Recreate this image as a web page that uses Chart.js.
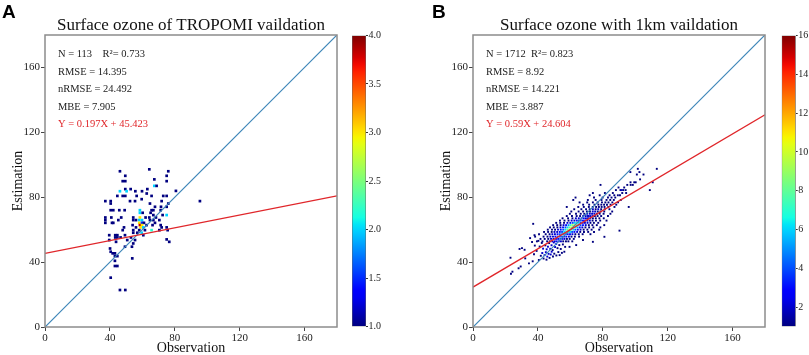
<!DOCTYPE html>
<html>
<head>
<meta charset="utf-8">
<script src="https://cdn.jsdelivr.net/npm/chart.js@4.4.1/dist/chart.umd.min.js"></script>
<style>
  body { margin: 0; background: #fff; }
  #wrap { position: relative; width: 809px; height: 355px; overflow: hidden; }
  canvas { position: absolute; top: 0; }
</style>
</head>
<body>
<div id="wrap">
  <canvas id="panelA" width="345" height="355" style="left:0px"></canvas>
  <canvas id="barA" width="60" height="355" style="left:340px"></canvas>
  <canvas id="panelB" width="345" height="355" style="left:428px"></canvas>
  <canvas id="barB" width="39" height="355" style="left:770px"></canvas>
</div>
<script>
// axis ticks (both panels share them)
const axisTicks = [0, 40, 80, 120, 160];
const axisMax = 180;

// colorbar ticks
const cbTicksA = [1.0, 1.5, 2.0, 2.5, 3.0, 3.5, 4.0];
const cbTicksB = [2, 4, 6, 8, 10, 12, 14, 16];
const cbRangeA = [1, 4];
const cbRangeB = [1, 16];

// fitted lines
const fitA = { slope: 0.197, intercept: 45.423 };
const fitB = { slope: 0.59, intercept: 24.604 };

// stats text
const statsA = ['N = 113    R\u00b2= 0.733', 'RMSE = 14.395', 'nRMSE = 24.492', 'MBE = 7.905', 'Y = 0.197X + 45.423'];
const statsB = ['N = 1712  R\u00b2= 0.823', 'RMSE = 8.92', 'nRMSE = 14.221', 'MBE = 3.887', 'Y = 0.59X + 24.604'];

// [observation, estimation, count] -- TROPOMI
const pointsA = [
  [64.3,97.2,1],[46.2,96,1],[76,96,1],[49.5,93.2,1],[75,93.2,1],[47.9,89.9,1],[49.5,89.9,1],[67.4,91,1],[75,89.9,1],
  [67.4,87,2],[68.8,87,1],[49.5,85,1],[52.8,85,1],[46.2,83.7,2],[50.3,83.7,2],[55.7,83.7,1],[59.8,83.7,1],[63.1,85,1],
  [80.7,83.9,1],[62.7,82.3,1],[44.6,80.8,1],[47.9,80.8,1],[49.5,80.8,1],[56.5,80.8,1],[65.7,80.8,1],[72.9,80.8,1],
  [75,80.8,1],[59.6,78.8,1],[37.2,77.6,1],[40.5,77.6,1],[52.4,77.6,1],[55.5,77.6,1],[71.9,77.6,1],[95.5,77.6,1],
  [40.5,76.1,1],[64.7,76.1,1],[76,76.1,1],[67.8,74.1,1],[71.5,74.1,1],[75,74.1,1],[40.5,72,1],[42.1,72,1],[45.8,72,1],
  [49.1,72,1],[58.5,72,2],[65.7,72,1],[66.8,72,1],[71.3,72,1],[58.5,70.4,2],[60.2,70.4,1],[65.1,70.4,1],[66.8,69,1],
  [72.5,69,1],[75,69,2],[37.2,67.5,1],[40.9,67.5,1],[47,67.5,1],[54.4,67.5,1],[58.5,67.5,3],[62,67.5,1],[64.3,67.5,1],
  [68.4,67.5,1],[37.2,65.9,1],[45.2,65.9,1],[54.4,65.9,1],[56.1,65.9,1],[58.1,65.9,2],[59.8,65.9,2],[64.7,65.9,1],
  [66.8,65.9,1],[70.5,65.9,1],[37.2,64.2,1],[41.3,64.2,1],[42.1,64.2,1],[58.1,64.2,3],[59.8,64.2,1.5],[61,64.2,1],
  [67.8,64.2,1],[54,62.8,1],[58.5,62.8,3.8],[59.8,62.8,3],[62.6,62.8,1],[66.3,62.8,1],[71.3,62.8,1],[48.7,61.4,1],
  [56.1,61.4,1],[58.9,61.4,3],[60.6,61.4,2],[71.9,61.4,1],[75,61.4,1],[47.9,59.7,1],[54.4,59.7,1],[58.1,59.7,1],
  [61.6,59.7,1],[65.7,59.7,2.2],[70.5,59.7,1],[75.6,59.7,1],[54.4,58.1,1],[56.9,58.1,1],[59.6,58.1,2],[39.6,56.6,1],
  [43.3,56.6,1],[44.6,56.6,1],[49.3,56.6,1],[60.6,56.6,1],[43.3,55.2,1],[44.6,55.2,1],[46.6,55.2,1],[53,55.2,1],
  [75,54,1],[76.6,52.5,1],[39.6,53.6,1],[50.7,53.6,1],[55.5,53.6,1],[43.8,52.5,1],[54.4,51.5,1],[49.3,49.5,1],
  [53.6,49.5,1],[40.1,48.4,1],[40.5,46.4,1],[41.7,45.4,1],[43.1,45.4,1],[43.1,43.7,1],[44.6,43.7,1],[53.8,42.3,1],
  [43.1,40.8,1],[43.1,37.6,1],[44.6,37.6,1],[40.5,30.4,1],[46.2,22.8,1],[49.5,22.8,1]
];

// [observation, estimation, count] -- 1km
const pointsB = [
  // lower tail
  [23.4,32.8,1],[24.3,34.1,1],[28.1,36.2,1],[29.4,37.3,1],[23.1,42.7,1],[32.2,42.3,1],[34.5,39.2,1],[36.8,40.5,1],
  [28.7,48.1,1],[30.2,48.6,1],[31.8,47.6,1],[37.6,44.8,1],[39.2,46.9,1],[40.6,41.3,1],[41.8,43.9,1],[42.7,45.6,2],
  [43.5,42.2,1],[44.1,44.3,2],[44.9,46.1,2],[45.3,41.5,1],[45.8,43.4,2],[46.6,45.1,2],[47.2,42.6,1],[47.9,44.7,2],
  [48.5,46.4,2],[49.3,43.5,1],[50.1,45.2,1],[51.4,44.1,1],[52.6,46.2,1],[54.8,45.7,1],[56.3,46.4,1],[53.4,44.3,1],
  [38.1,50.2,1],[36.4,52.4,1],[35.2,54.8,1],[37.9,56.6,1],[40.3,53.1,1],[41.1,49.6,1],[42.4,51.8,1],[43.2,48.3,2],
  [44.6,50.3,1],[45.4,47.9,2],[46.2,49.5,2],[46.9,51.7,1],[47.6,48.2,2],[48.4,50.4,2],[49.1,47.4,1],[49.8,52.1,2],
  [50.6,49.3,2],[51.3,51.2,3],[52.1,48.6,1],[53.2,50.5,1],[54.1,48.1,1],[55.4,50.9,1],[56.8,49.4,1],[59.5,49.4,1],
  [63.6,50.5,1],[67.8,53.6,1],[73.9,52.5,1],[81.0,55.6,1],
  // core rows
  [39.4,52.8,1],[42.8,52.8,1],[45.7,52.8,1],[47.3,52.8,1],[48.9,52.8,2],[50.4,52.8,2],[51.6,52.8,3],[52.9,52.8,3],
  [54.2,52.8,2],[55.6,52.8,1],[57.3,52.8,1],[58.8,52.8,1],[61.2,52.8,1],
  [41.6,54.3,1],[44.2,54.3,1],[46.4,54.3,1],[48.1,54.3,2],[49.6,54.3,2],[51.2,54.3,3],[52.5,54.3,3],[53.8,54.3,4],
  [55.1,54.3,3],[56.4,54.3,2],[57.9,54.3,1],[59.6,54.3,1],[62.1,54.3,1],
  [38.3,55.7,1],[43.5,55.7,1],[45.9,55.7,1],[47.7,55.7,2],[49.3,55.7,2],[50.8,55.7,3],[52.2,55.7,4],[53.6,55.7,4],
  [54.9,55.7,4],[56.1,55.7,3],[57.5,55.7,3],[59.1,55.7,2],[60.7,55.7,1],[62.8,55.7,1],[65.4,55.7,1],
  [40.7,57.2,1],[44.8,57.2,1],[47.2,57.2,1],[48.9,57.2,2],[50.5,57.2,2],[52.1,57.2,3],[53.5,57.2,4],[54.8,57.2,5],
  [56.0,57.2,5],[57.2,57.2,4],[58.4,57.2,3],[59.8,57.2,3],[61.3,57.2,2],[63.1,57.2,1],[65.2,57.2,1],[67.6,57.2,1],[72.4,57.2,1],
  [43.8,58.6,1],[46.3,58.6,1],[48.5,58.6,1],[50.2,58.6,2],[51.9,58.6,2],[53.5,58.6,3],[54.9,58.6,4],[56.2,58.6,6],
  [57.4,58.6,7],[58.6,58.6,7],[59.8,58.6,6],[61.1,58.6,4],[62.5,58.6,3],[64.2,58.6,2],[66.1,58.6,1],[68.4,58.6,1],
  [71.0,58.6,1],[74.6,58.6,1],
  [46.1,60.0,1],[48.7,60.0,1],[50.6,60.0,1],[52.4,60.0,2],[54.1,60.0,3],[55.6,60.0,4],[56.9,60.0,6],[58.1,60.0,8],
  [59.3,60.0,9],[60.5,60.0,8],[61.8,60.0,6],[63.1,60.0,4],[64.6,60.0,3],[66.3,60.0,2],[68.2,60.0,1],[70.5,60.0,1],
  [73.1,60.0,1],[77.8,60.0,1],[90.3,59.4,1],
  [47.5,61.4,1],[49.8,61.4,1],[52.0,61.4,1],[53.9,61.4,2],[55.5,61.4,3],[57.0,61.4,4],[58.3,61.4,6],[59.5,61.4,8],
  [60.7,61.4,10],[61.9,61.4,9],[63.1,61.4,7],[64.4,61.4,5],[65.8,61.4,3],[67.4,61.4,2],[69.3,61.4,1],[71.6,61.4,1],
  [74.2,61.4,1],[78.5,61.4,1],
  [49.4,62.8,1],[51.9,62.8,1],[54.0,62.8,1],[55.8,62.8,2],[57.4,62.8,3],[58.9,62.8,5],[60.2,62.8,7],[61.4,62.8,9],
  [62.6,62.8,10],[63.8,62.8,8],[65.0,62.8,6],[66.3,62.8,4],[67.8,62.8,3],[69.5,62.8,2],[71.4,62.8,1],[73.6,62.8,1],
  [76.3,62.8,1],[80.9,62.8,1],[37.1,63.6,1],
  [51.3,64.2,1],[53.8,64.2,1],[56.1,64.2,1],[58.2,64.2,2],[60.0,64.2,3],[61.5,64.2,4],[62.8,64.2,6],[64.0,64.2,7],
  [65.2,64.2,6],[66.4,64.2,4],[67.7,64.2,3],[69.0,64.2,2],[70.6,64.2,2],[72.4,64.2,1],[74.5,64.2,1],[77.2,64.2,1],
  [53.6,65.6,1],[56.4,65.6,1],[58.9,65.6,1],[60.8,65.6,2],[62.5,65.6,2],[64.0,65.6,3],[65.3,65.6,4],[66.5,65.6,4],
  [67.8,65.6,3],[69.1,65.6,3],[70.5,65.6,2],[72.0,65.6,2],[73.7,65.6,1],[75.8,65.6,1],[78.4,65.6,1],[82.3,65.6,1],
  [55.2,67.0,1],[58.6,67.0,1],[61.3,67.0,1],[63.4,67.0,2],[65.2,67.0,2],[66.9,67.0,3],[68.3,67.0,3],[69.6,67.0,2],
  [70.9,67.0,2],[72.3,67.0,2],[73.9,67.0,1],[75.7,67.0,1],[77.9,67.0,1],[80.6,67.0,1],
  [57.8,68.4,1],[61.0,68.4,1],[63.9,68.4,1],[66.0,68.4,1],[67.9,68.4,2],[69.5,68.4,2],[70.9,68.4,2],[72.2,68.4,2],
  [73.6,68.4,2],[75.1,68.4,1],[76.8,68.4,1],[79.0,68.4,1],[83.2,68.4,1],
  [59.7,69.8,1],[63.5,69.8,1],[66.4,69.8,1],[68.6,69.8,1],[70.4,69.8,2],[72.0,69.8,2],[73.4,69.8,2],[74.8,69.8,2],
  [76.3,69.8,1],[78.1,69.8,1],[80.5,69.8,1],[84.7,69.8,1],
  [60.6,71.2,1],[65.1,71.2,1],[67.9,71.2,1],[70.2,71.2,1],[72.1,71.2,1],[73.8,71.2,2],[75.3,71.2,2],[76.9,71.2,1],
  [78.6,71.2,1],[80.9,71.2,1],[85.8,71.2,1],
  [62.4,72.6,1],[66.8,72.6,1],[69.7,72.6,1],[71.9,72.6,1],[73.9,72.6,2],[75.6,72.6,1],[77.2,72.6,2],[79.0,72.6,1],
  [81.2,72.6,1],[84.1,72.6,1],
  [57.8,74.0,1],[64.9,74.0,1],[68.3,74.0,1],[71.4,74.0,1],[73.8,74.0,1],[75.9,74.0,1],[77.6,74.0,1],[79.3,74.0,1],
  [81.1,74.0,1],[83.4,74.0,1],[87.2,74.0,1],[96.0,74.0,1],
  // upper band
  [67.9,75.4,1],[71.6,75.4,1],[74.9,75.4,1],[77.3,75.4,1],[79.1,75.4,1],[80.8,75.4,1],[82.6,75.4,1],[84.8,75.4,1],[88.3,75.4,1],
  [65.7,76.8,1],[70.4,76.8,1],[73.9,76.8,1],[76.8,76.8,1],[79.5,76.8,1],[81.6,76.8,1],[83.5,76.8,1],[85.9,76.8,1],[89.4,76.8,1],
  [61.8,78.3,1],[70.8,78.3,1],[75.6,78.3,1],[79.2,78.3,1],[82.3,78.3,1],[84.6,78.3,1],[86.8,78.3,1],[91.1,78.3,1],
  [63.2,79.8,1],[74.6,79.8,1],[79.9,79.8,1],[83.2,79.8,1],[85.4,79.8,1],[87.7,79.8,1],
  [71.9,81.2,1],[78.1,81.2,1],[84.2,81.2,1],[87.1,81.2,1],[89.3,81.2,1],[90.6,81.2,1],
  [73.9,82.6,1],[81.3,82.6,1],[86.2,82.6,1],[92.0,82.6,1],[94.4,82.6,1],
  [88.1,84.4,1],[90.9,84.4,1],[91.6,84.4,2],[92.6,84.4,1],[94.1,84.4,1],[109.0,84.4,1],
  [89.7,86.0,1],[93.2,86.0,1],[78.6,87.6,1],[95.1,87.6,1],[97.2,87.6,1],[98.5,87.6,1],
  [99.4,89.2,1],[100.3,89.2,1],[110.8,89.2,1],[97.1,89.2,1],[103.0,91.0,1],
  [101.0,94.0,1],[105.1,94.0,1],[97.0,95.5,1],[102.6,95.5,1],[101.6,97.5,1],[113.3,97.5,1]
];

// matplotlib jet
const JET = {
  r: [[0, 0], [0.35, 0], [0.66, 1], [0.89, 1], [1, 0.5]],
  g: [[0, 0], [0.125, 0], [0.375, 1], [0.64, 1], [0.91, 0], [1, 0]],
  b: [[0, 0.5], [0.11, 1], [0.34, 1], [0.65, 0], [1, 0]]
};
function seg(s, t) {
  for (let i = 1; i < s.length; i++) {
    if (t <= s[i][0]) {
      const f = (t - s[i - 1][0]) / (s[i][0] - s[i - 1][0]);
      return s[i - 1][1] + f * (s[i][1] - s[i - 1][1]);
    }
  }
  return s[s.length - 1][1];
}
function jet(t) {
  t = Math.max(0, Math.min(1, t));
  const r = Math.round(seg(JET.r, t) * 255), g = Math.round(seg(JET.g, t) * 255), b = Math.round(seg(JET.b, t) * 255);
  return `rgb(${r},${g},${b})`;
}

const SERIF = "'Liberation Serif', 'Times New Roman', serif";

const panelDeco = {
  id: 'panelDeco',
  afterDatasetsDraw(chart, args, opts) {
    const { ctx, chartArea: a } = chart;
    ctx.save();
    ctx.strokeStyle = '#8c8c8c';
    ctx.lineWidth = 1.5;
    ctx.strokeRect(a.left, a.top, a.right - a.left, a.bottom - a.top);
    ctx.restore();
  },
  afterDraw(chart, args, opts) {
    const { ctx, chartArea: a } = chart;
    ctx.save();
    // panel letter
    ctx.font = "bold 19px 'Liberation Sans', Arial, sans-serif";
    ctx.fillStyle = '#000';
    ctx.textBaseline = 'alphabetic';
    ctx.textAlign = 'left';
    ctx.fillText(opts.letter, opts.letterX, 18);
    // title
    ctx.font = '17px ' + SERIF;
    ctx.textAlign = 'center';
    ctx.textBaseline = 'middle';
    ctx.fillStyle = '#111';
    ctx.fillText(opts.title, (a.left + a.right) / 2, 26);
    // stats
    ctx.font = '10.5px ' + SERIF;
    ctx.textAlign = 'left';
    const rows = [19.5, 37, 54.5, 72, 89.5];
    opts.stats.forEach((s, i) => {
      ctx.fillStyle = i === opts.stats.length - 1 ? '#e0262a' : '#222';
      ctx.fillText(s, a.left + 13, a.top + rows[i]);
    });
    ctx.restore();
  }
};

function makePanel(id, points, fit, range, pointR, letter, letterX, title, stats) {
  const fitLine = [0, axisMax].map(x => ({ x, y: fit.slope * x + fit.intercept }));
  const oneLine = [0, axisMax].map(x => ({ x, y: x }));
  const tickFont = { family: SERIF, size: 11 };
  const axis = (titleText, isX) => ({
    type: 'linear',
    min: 0,
    max: axisMax,
    afterBuildTicks: s => { s.ticks = axisTicks.map(v => ({ value: v })); },
    afterFit: s => { if (isX) s.height = 28; else s.width = 45; },
    grid: { drawOnChartArea: false, drawTicks: true, tickLength: 4, color: '#444' },
    border: { display: false },
    ticks: { color: '#222', font: tickFont, padding: 1 },
    title: {
      display: true, text: titleText, color: '#111',
      font: { family: SERIF, size: 14, lineHeight: 1 },
      padding: isX ? { top: 0, bottom: 0 } : { top: 11, bottom: 0 }
    }
  });
  new Chart(document.getElementById(id), {
    type: 'scatter',
    data: {
      datasets: [
        { data: oneLine, showLine: true, borderColor: '#3d86b8', borderWidth: 1.2, pointRadius: 0, order: 1 },
        { data: fitLine, showLine: true, borderColor: '#e0262a', borderWidth: 1.3, pointRadius: 0, order: 0 },
        {
          data: points.map(p => ({ x: p[0], y: p[1], d: p[2] })),
          pointStyle: 'rect',
          pointRadius: pointR,
          pointBorderWidth: 0,
          backgroundColor: c => jet((c.raw.d - range[0]) / (range[1] - range[0])),
          order: 2
        }
      ]
    },
    options: {
      responsive: false,
      animation: false,
      events: [],
      layout: { padding: { top: 35, right: 8, left: 0, bottom: 0 } },
      plugins: {
        legend: { display: false },
        tooltip: { enabled: false },
        panelDeco: { letter, letterX, title, stats }
      },
      scales: { x: axis('Observation', true), y: axis('Estimation', false) }
    },
    plugins: [panelDeco]
  });
}

function makeColorbar(id, range, ticks, padLeft, width, fmt) {
  new Chart(document.getElementById(id), {
    type: 'bar',
    data: {
      labels: [''],
      datasets: [{
        data: [range],
        backgroundColor: c => {
          const a = c.chart.chartArea;
          if (!a) return '#000080';
          const g = c.chart.ctx.createLinearGradient(0, a.bottom, 0, a.top);
          for (let i = 0; i <= 40; i++) g.addColorStop(i / 40, jet(i / 40));
          return g;
        },
        borderColor: '#666',
        borderWidth: 0.8,
        borderSkipped: false,
        barPercentage: 1,
        categoryPercentage: 1
      }]
    },
    options: {
      responsive: false,
      animation: false,
      events: [],
      layout: { padding: { left: padLeft, top: 35.5, bottom: 28.5, right: 0 } },
      plugins: { legend: { display: false }, tooltip: { enabled: false } },
      scales: {
        x: { display: false },
        y: {
          position: 'right',
          min: range[0],
          max: range[1],
          afterBuildTicks: s => { s.ticks = ticks.map(v => ({ value: v })); },
          afterFit: s => { s.width = width; },
          grid: { drawOnChartArea: false, tickLength: 2, color: '#333' },
          border: { display: false },
          ticks: { color: '#222', font: { family: SERIF, size: 10 }, padding: 0.5, callback: fmt }
        }
      }
    }
  });
}

makePanel('panelA', pointsA, fitA, cbRangeA, 1.9, 'A', 2, 'Surface ozone of TROPOMI vaildation', statsA);
makePanel('panelB', pointsB, fitB, cbRangeB, 1.35, 'B', 4, 'Surface ozone with 1km vaildation', statsB);
makeColorbar('barA', cbRangeA, cbTicksA, 12, 34, v => v.toFixed(1));
makeColorbar('barB', cbRangeB, cbTicksB, 11.7, 13.3, v => String(v));
</script>
</body>
</html>
